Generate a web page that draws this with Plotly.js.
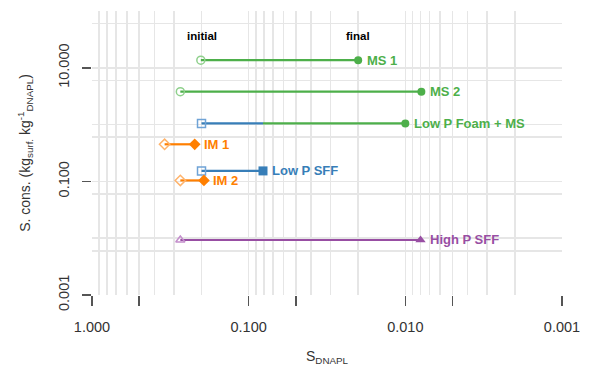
<!DOCTYPE html>
<html>
<head>
<meta charset="utf-8">
<script src="https://cdn.plot.ly/plotly-3.0.1.min.js"></script>
<style>html,body{margin:0;padding:0;background:#fff;}#chart{width:597px;height:367px;}</style>
</head>
<body>
<div id="chart"></div>
<script>
// Data
const series = ["MS 1", "MS 2", "Low P Foam + MS", "IM 1", "Low P SFF", "IM 2", "High P SFF"];
const sInitial = [0.202, 0.273, 0.200, 0.344, 0.200, 0.273, 0.273];
const sFinal   = [0.020, 0.0079, 0.010, 0.221, 0.081, 0.193, 0.0080];
const sCons    = [13.6, 3.8, 1.05, 0.45, 0.153, 0.104, 0.0093];
// Low P Foam stage before MS stage (blue segment end)
const foamSwitch = [0.081];
const groupColor = ["#4DAF4A", "#4DAF4A", "#4DAF4A", "#FF7F00", "#377EB8", "#FF7F00", "#984EA3"];
const lightColor = ["#8fd08c", "#8fd08c", "#6fa3d6", "#ffb36b", "#6fa3d6", "#ffb36b", "#c48fcc"];
const openSym  = ["circle-open", "circle-open", "square-open", "diamond-open", "square-open", "diamond-open", "triangle-up-open"];
const fillSym  = ["circle", "circle", "circle", "diamond", "square", "diamond", "triangle-up"];

const xLabelled = [1, 0.1, 0.01, 0.001];
const xLabelText = ["1.000", "0.100", "0.010", "0.001"];
const xHalfTicks = [0.5, 0.05, 0.005];
const xMinor = [0.9,0.8,0.7,0.6,0.5,0.4,0.3,0.2,0.09,0.08,0.07,0.06,0.05,0.04,0.03,0.02,0.009,0.008,0.007,0.006,0.005,0.004,0.003,0.002];
const yLabelled = [0.001, 0.1, 10];
const yLabelText = ["0.001", "0.100", "10.000"];
const yMinor = [0.006, 0.01, 0.06, 0.6, 1, 6, 60, 100];

const traces = [];
const annotations = [];
series.forEach((name, i) => {
  if (name === "Low P Foam + MS") {
    traces.push({x: [sInitial[i], foamSwitch[0]], y: [sCons[i], sCons[i]], mode: "lines",
      line: {color: "#377EB8", width: 2.2}, hoverinfo: "skip", showlegend: false});
    traces.push({x: [foamSwitch[0], sFinal[i]], y: [sCons[i], sCons[i]], mode: "lines",
      line: {color: "#4DAF4A", width: 2.2}, hoverinfo: "skip", showlegend: false});
  } else {
    traces.push({x: [sInitial[i], sFinal[i]], y: [sCons[i], sCons[i]], mode: "lines",
      line: {color: groupColor[i], width: 2.2}, hoverinfo: "skip", showlegend: false});
  }
  traces.push({x: [sInitial[i]], y: [sCons[i]], mode: "markers", showlegend: false,
    marker: {symbol: openSym[i], size: 8, color: lightColor[i], line: {width: 1.5, color: lightColor[i]}}});
  traces.push({x: [sFinal[i]], y: [sCons[i]], mode: "markers", showlegend: false,
    marker: {symbol: fillSym[i], size: fillSym[i] === "circle" ? 8 : 9, color: groupColor[i]}});
  annotations.push({x: Math.log10(sFinal[i]), y: Math.log10(sCons[i]), xref: "x", yref: "y",
    text: "<b>" + name + "</b>", showarrow: false, xanchor: "left", yanchor: "middle", xshift: 7,
    font: {family: "Liberation Sans, Arial", size: 13, color: groupColor[i]}});
});
// carrier trace for the overlay axis that holds the unlabelled half-decade ticks
traces.push({x: [], y: [], xaxis: "x2", yaxis: "y", mode: "markers", showlegend: false, hoverinfo: "skip"});

annotations.push({x: Math.log10(0.2), y: Math.log10(37), xref: "x", yref: "y", text: "<b>initial</b>",
  showarrow: false, font: {family: "Liberation Sans, Arial", size: 11.5, color: "#000"}});
annotations.push({x: Math.log10(0.02), y: Math.log10(37), xref: "x", yref: "y", text: "<b>final</b>",
  showarrow: false, font: {family: "Liberation Sans, Arial", size: 11.5, color: "#000"}});

const gridCol = "#e6e6e6";
const layout = {
  width: 597, height: 367,
  margin: {l: 92, r: 35, t: 11, b: 72},
  paper_bgcolor: "#fff", plot_bgcolor: "#fff",
  font: {family: "Liberation Sans, Arial", size: 14.5, color: "#333"},
  showlegend: false,
  xaxis: {
    type: "log", range: [0, -3], showline: false, zeroline: false,
    tickmode: "array", tickvals: xLabelled, ticktext: xLabelText,
    ticks: "outside", ticklen: 10, tickwidth: 1.5, tickcolor: "#555",
    showgrid: true, gridcolor: gridCol, gridwidth: 1.6,
    tickfont: {size: 14.5, color: "#333"}, ticklabelstandoff: 9,
    minor: {tickmode: "array", tickvals: xMinor, showgrid: true, gridcolor: gridCol, gridwidth: 1.6, ticks: ""},
    title: {text: "S<sub>DNAPL</sub>", font: {size: 14, color: "#333"}, standoff: 16}
  },
  xaxis2: {
    type: "log", range: [0, -3], overlaying: "x", anchor: "y", side: "bottom",
    showline: false, zeroline: false, showgrid: false, showticklabels: false,
    tickmode: "array", tickvals: xHalfTicks,
    ticks: "outside", ticklen: 10, tickwidth: 1.5, tickcolor: "#555"
  },
  yaxis: {
    type: "log", range: [-3, 2], showline: false, zeroline: false,
    tickmode: "array", tickvals: yLabelled, ticktext: yLabelText, tickangle: -90,
    ticks: "outside", ticklen: 9, tickwidth: 1.5, tickcolor: "#555",
    showgrid: true, gridcolor: gridCol, gridwidth: 1.6,
    tickfont: {size: 14.5, color: "#333"}, ticklabelstandoff: 7,
    minor: {tickmode: "array", tickvals: yMinor, showgrid: true, gridcolor: gridCol, gridwidth: 1.6, ticks: ""},
    title: {text: "S. cons. (kg<sub>surf.</sub> kg<sup>-1</sup><sub>DNAPL</sub>)", font: {size: 14, color: "#333"}, standoff: 22}
  },
  annotations: annotations
};

Plotly.newPlot("chart", traces, layout, {displayModeBar: false, staticPlot: true});
</script>
</body>
</html>
